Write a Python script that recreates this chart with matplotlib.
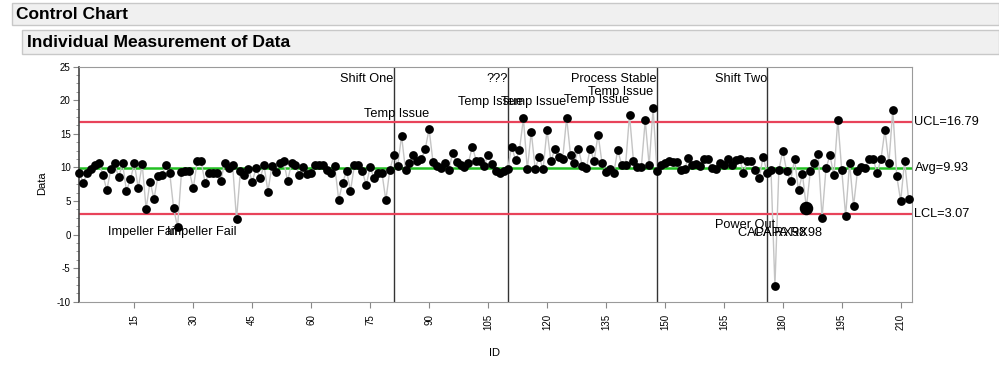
import matplotlib
matplotlib.use("Agg")
import matplotlib.pyplot as plt
from matplotlib.patches import Rectangle
import numpy as np

plt.rcParams['font.family'] = ['Liberation Sans', 'DejaVu Sans']

# ---------------- data ----------------
values = [
    9.2, 7.7, 9.2, 9.8, 10.3, 10.7, 8.9, 6.6, 9.7, 10.6,
    8.5, 10.6, 6.5, 8.2, 10.6, 6.9, 10.5, 3.8, 7.9, 5.3,
    8.7, 8.8, 10.4, 9.2, 3.9, 1.1, 9.3, 9.4, 9.4, 6.9,
    10.9, 10.9, 7.7, 9.2, 9.2, 9.2, 8.0, 10.7, 9.9, 10.4,
    2.3, 9.5, 8.9, 9.8, 7.9, 9.9, 8.4, 10.3, 6.4, 10.2,
    9.3, 10.7, 10.9, 8.0, 10.6, 10.3, 8.9, 10.1, 9.0, 9.2,
    10.4, 10.3, 10.4, 9.6, 9.2, 10.2, 5.2, 7.7, 9.5, 6.5,
    10.3, 10.4, 9.4, 7.4, 10.0, 8.4, 9.2, 9.2, 5.1, 9.6,
    11.8, 10.2, 14.7, 9.6, 10.6, 11.8, 10.9, 11.2, 12.7, 15.7,
    10.8, 10.2, 9.9, 10.6, 9.6, 12.2, 10.8, 10.3, 10.0, 10.7,
    13.1, 11.0, 11.0, 10.2, 11.9, 10.5, 9.4, 9.1, 9.4, 9.7,
    13.1, 11.1, 12.6, 17.3, 9.7, 15.3, 9.8, 11.6, 9.7, 15.6,
    10.9, 12.8, 11.5, 11.3, 17.4, 11.8, 10.6, 12.8, 10.2, 9.9,
    12.8, 11.0, 14.9, 10.7, 9.3, 9.7, 9.2, 12.6, 10.4, 10.4,
    17.8, 11.0, 10.1, 10.0, 17.0, 10.3, 18.8, 9.4, 10.3, 10.6,
    10.9, 10.8, 10.8, 9.6, 9.8, 11.4, 10.4, 10.5, 10.2, 11.2,
    11.2, 9.9, 9.8, 10.6, 10.3, 11.3, 10.3, 11.1, 11.3, 9.2,
    11.0, 11.0, 9.6, 8.4, 11.6, 9.2, 9.6, -7.7, 9.6, 12.5,
    9.4, 8.0, 11.2, 6.6, 9.0, 4.0, 9.4, 10.7, 12.0, 2.5,
    9.9, 11.8, 8.8, 17.1, 9.6, 2.8, 10.7, 4.2, 9.4, 10.1,
    9.9, 11.3, 11.3, 9.1, 11.3, 15.6, 10.6, 18.6, 8.7, 5.0,
    11.0, 5.3,
]
ids = list(range(1, len(values) + 1))

ucl = 16.79
avg = 9.93
lcl = 3.07

phase_ids = [81, 110, 148, 176]
phase_labels = ["Shift One", "???", "Process Stable", "Shift Two"]

point_label_ids = [26, 41, 90, 114, 125, 141, 147, 178, 186, 190]
point_label_texts = ["Impeller Fail", "Impeller Fail", "Temp Issue", "Temp Issue",
                     "Temp Issue", "Temp Issue", "Temp Issue", "Power Out",
                     "CAPA RX98", "CAPA RX98"]
point_label_y = [0.42, 0.42, 17.95, 19.8, 19.8, 20.1, 21.2, 1.4, 0.2, 0.2]

highlight_ids = [186]

x_ticks = [15, 30, 45, 60, 75, 90, 105, 120, 135, 150, 165, 180, 195, 210]
y_ticks = [-10, -5, 0, 5, 10, 15, 20, 25]

# ---------------- figure ----------------
W, H = 999, 376
fig = plt.figure(figsize=(W / 100, H / 100), dpi=100)
fig.patch.set_facecolor('white')

def fx(px):
    return px / W

def fy(py):
    return 1 - py / H

# header boxes
fig.add_artist(Rectangle((fx(12), fy(25)), fx(999 - 12), 22 / H, transform=fig.transFigure,
                         facecolor='#f0f0f0', edgecolor='#c8c8c8', lw=1))
fig.text(fx(16), fy(14.5), "Control Chart", fontsize=12.5, fontweight='bold', va='center', ha='left')
fig.add_artist(Rectangle((fx(22), fy(54)), fx(999 - 22), 24 / H, transform=fig.transFigure,
                         facecolor='#f0f0f0', edgecolor='#c8c8c8', lw=1))
fig.text(fx(27), fy(42.5), "Individual Measurement of Data", fontsize=12.6, fontweight='bold',
         va='center', ha='left')

ax_l, ax_r, ax_t, ax_b = 79, 912, 66.7, 301.7
ax = fig.add_axes([fx(ax_l), fy(ax_b), (ax_r - ax_l) / W, (ax_b - ax_t) / H])

ax.set_xlim(0.92, 212.88)
ax.set_ylim(-10, 25)

# control lines
ax.axhline(ucl, color='#e8435a', lw=1.6, zorder=2)
ax.axhline(lcl, color='#e8435a', lw=1.6, zorder=2)
ax.axhline(avg, color='#22c022', lw=1.8, zorder=2)

# phase lines
for pid, lab in zip(phase_ids, phase_labels):
    ax.axvline(pid, color='#333333', lw=1.0, zorder=1)
    ax.text(pid, 23.1, lab, ha='right', va='center', fontsize=9.2, color='black', zorder=5)

# data
ax.plot(ids, values, color='#c4c4c4', lw=1.0, zorder=3)
ax.scatter(ids, values, s=40, color='black', zorder=4, clip_on=False, linewidths=0)
hv = [values[i - 1] for i in highlight_ids]
ax.scatter(highlight_ids, hv, s=95, color='black', zorder=4, linewidths=0)

for pid, txt, yv in zip(point_label_ids, point_label_texts, point_label_y):
    ax.text(pid, yv, txt, ha='right', va='center', fontsize=9.2, color='black', zorder=5)

# right side labels
ax.text(1.003, (ucl + 10) / 35, f"UCL={ucl:.2f}", transform=ax.transAxes, ha='left', va='center', fontsize=9.2)
ax.text(1.003, (avg + 10) / 35, f"Avg={avg:.2f}", transform=ax.transAxes, ha='left', va='center', fontsize=9.2)
ax.text(1.003, (lcl + 10) / 35, f"LCL={lcl:.2f}", transform=ax.transAxes, ha='left', va='center', fontsize=9.2)

# axes styling
ax.set_xticks(x_ticks)
ax.set_xticklabels([str(t) for t in x_ticks], rotation=90, fontsize=7)
ax.set_yticks(y_ticks)
ax.set_yticklabels([str(t) for t in y_ticks], fontsize=7)
ax.set_yticks(np.arange(-10, 25.1, 1.25), minor=True)
ax.tick_params(axis='both', direction='out', length=4, color='#888888', width=0.8, pad=2)
ax.tick_params(axis='y', which='minor', length=2, color='#888888')
ax.tick_params(axis='x', pad=5)
for s in ['top', 'right', 'bottom']:
    ax.spines[s].set_color('#9a9a9a')
ax.spines['left'].set_color('#444444')
ax.spines['left'].set_linewidth(1.2)

fig.text(fx(42), fy(183), "Data", rotation=90, fontsize=8, ha='center', va='center')
fig.text(fx(494), fy(353), "ID", fontsize=8, ha='center', va='center')

fig.savefig("out.png", dpi=100)
